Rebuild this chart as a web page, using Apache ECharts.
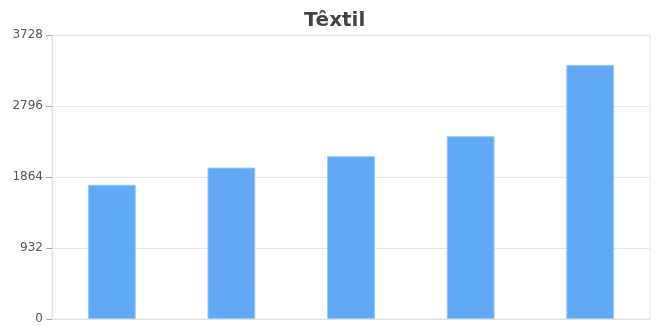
<!DOCTYPE html>
<html lang="pt">
<head>
    <meta charset="utf-8">
    <script src="https://cdn.jsdelivr.net/npm/echarts@6/dist/echarts.min.js"></script>
    <style>
        html, body { margin: 0; padding: 0; background: #fff; }
    </style>
</head>
<body>
<div id="main" style="width: 659px;height:326px;"></div>
<script type="text/javascript">
    // dados do gráfico
    var categorias = ['1', '2', '3', '4', '5'];
    var valores = [1763, 1988, 2137, 2400, 3336];
    var yTicks = [0, 932, 1864, 2796, 3728];

    var myChart = echarts.init(document.getElementById('main'));

    var option = {
        animation: false,
        title: {
            text: 'Têxtil',
            left: 299,
            top: 6,
            textStyle: {
                fontFamily: 'DejaVu Sans',
                fontSize: 20,
                fontWeight: 'bold',
                color: '#444'
            }
        },
        grid: {
            left: 52,
            right: 9,
            top: 35,
            bottom: 7,
            show: true,
            borderColor: '#e6e6e6',
            borderWidth: 1
        },
        xAxis: {
            type: 'category',
            data: categorias,
            axisLabel: { show: false },
            axisTick: { show: false },
            axisLine: { lineStyle: { color: '#e0e0e0' } }
        },
        yAxis: {
            type: 'value',
            min: yTicks[0],
            max: yTicks[yTicks.length - 1],
            interval: yTicks[1] - yTicks[0],
            axisLine: { show: true, lineStyle: { color: '#e0e0e0' } },
            axisTick: { show: true, length: 6, lineStyle: { color: '#aaa' } },
            axisLabel: {
                fontFamily: 'DejaVu Sans',
                fontSize: 12,
                color: '#555',
                margin: 9,
                formatter: function (v) { return String(v); }
            },
            splitLine: { lineStyle: { color: '#e6e6e6' } }
        },
        series: [{
            type: 'bar',
            data: valores,
            barWidth: '40%',
            itemStyle: {
                color: '#62a9f5',
                borderColor: '#9cc8f8',
                borderWidth: 1
            }
        }]
    };
    myChart.setOption(option);
</script>
</body>
</html>
